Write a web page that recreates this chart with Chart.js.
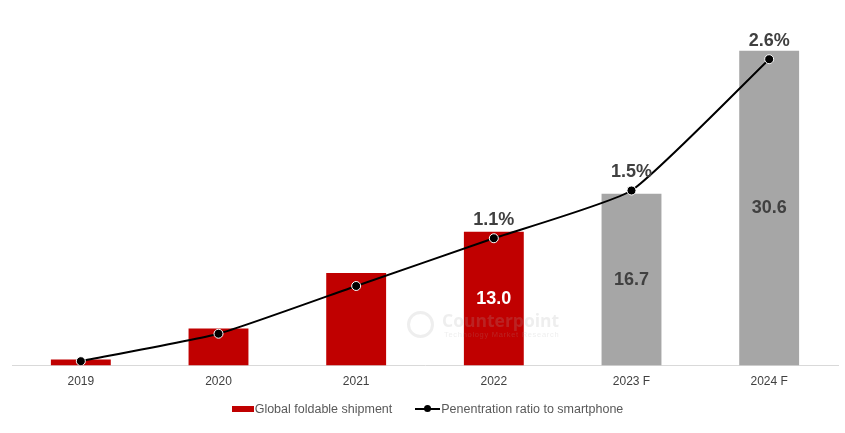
<!DOCTYPE html>
<html>
<head>
<meta charset="utf-8">
<script src="https://cdn.jsdelivr.net/npm/chart.js@4"></script>
<style>
  html, body { margin: 0; padding: 0; background: #fff; }
  #wrap { width: 845px; height: 433px; position: relative; font-family: "Liberation Sans", Arial, sans-serif; }
  #legenda { position: absolute; left: 0; width: 845px; top: 402px; display: flex; justify-content: center; align-items: center;
             font-size: 12.5px; color: #595959; padding-left: 10px; box-sizing: border-box; }
  .voce { display: flex; align-items: center; }
  .box { width: 22px; height: 6px; background: #C00000; margin-right: 1px; }
  .lin { width: 25px; height: 8px; position: relative; margin-right: 1px; }
  .lin:before { content: ""; position: absolute; left: 0; right: 0; top: 3px; height: 2px; background: #000; }
  .lin:after { content: ""; position: absolute; left: 9px; top: 0; width: 7px; height: 7px; border-radius: 50%; background: #000; }
  #marchio { position: absolute; left: 407px; top: 308px; color: rgba(170,170,170,0.2); pointer-events: none; }
  #marchio .cerchio { position: absolute; left: 0; top: 3px; width: 21px; height: 21px; border: 3px solid rgba(170,170,170,0.2); border-radius: 50%; }
  #marchio .nome { position: absolute; left: 35px; top: 0; font-family: "Open Sans", sans-serif; font-weight: bold; font-size: 17.5px; white-space: nowrap; }
  #marchio .sotto { position: absolute; left: 37px; top: 22px; font-size: 7.5px; white-space: nowrap; letter-spacing: 0.7px; }
</style>
</head>
<body>
<div id="wrap">
  <canvas id="grafico" width="845" height="433"></canvas>
  <div id="marchio"><div class="cerchio"></div><div class="nome">Counterpoint</div><div class="sotto">Technology Market Research</div></div>
  <div id="legenda">
    <div class="voce"><span class="box"></span><span>Global foldable shipment</span></div>
    <div class="voce" style="margin-left:23px"><span class="lin"></span><span>Penentration ratio to smartphone</span></div>
  </div>
</div>
<script>
// dati
var anni = ["2019", "2020", "2021", "2022", "2023 F", "2024 F"];
var spedizioni = [0.6, 3.6, 9.0, 13.0, 16.7, 30.6];
var penetrazione = [0.07, 0.3, 0.7, 1.1, 1.5, 2.6];
var etichetteBarre = ["", "", "", "13.0", "16.7", "30.6"];
var etichetteLinea = ["", "", "", "1.1%", "1.5%", "2.6%"];

var rosso = '#C00000';
var grigio = '#A6A6A6';
var coloriBarre = anni.map(function(a) { return a.indexOf('F') > 0 ? grigio : rosso; });

// plugin per le etichette dei valori
var etichette = {
  id: 'etichette',
  afterDatasetsDraw: function(chart) {
    var ctx = chart.ctx;
    ctx.save();
    ctx.font = 'bold 18px "Liberation Sans", Arial, sans-serif';
    ctx.textAlign = 'center';
    ctx.textBaseline = 'middle';
    var barre = chart.getDatasetMeta(1).data;
    barre.forEach(function(b, i) {
      if (!etichetteBarre[i]) return;
      ctx.fillStyle = anni[i].indexOf('F') > 0 ? '#404040' : '#ffffff';
      ctx.fillText(etichetteBarre[i], b.x, (b.y + b.base) / 2);
    });
    var punti = chart.getDatasetMeta(0).data;
    punti.forEach(function(p, i) {
      if (!etichetteLinea[i]) return;
      ctx.fillStyle = '#404040';
      ctx.fillText(etichetteLinea[i], p.x, p.y - 18);
    });
    ctx.restore();
  }
};

var ctx = document.getElementById('grafico');
var chart = new Chart(ctx, {
  type: 'bar',
  data: {
    labels: anni,
    datasets: [{
      type: 'line',
      label: 'Penentration ratio to smartphone',
      data: penetrazione,
      yAxisID: 'y1',
      borderColor: '#000',
      borderWidth: 2,
      tension: 0.15,
      pointRadius: 4.5,
      pointBackgroundColor: '#000',
      pointBorderColor: '#fff',
      pointBorderWidth: 1,
      order: 0
    }, {
      type: 'bar',
      label: 'Global foldable shipment',
      data: spedizioni,
      yAxisID: 'y',
      backgroundColor: coloriBarre,
      barPercentage: 0.435,
      categoryPercentage: 1,
      order: 1
    }]
  },
  options: {
    responsive: false,
    animation: false,
    layout: { padding: { left: 12, right: 7, top: 4, bottom: 43 } },
    plugins: {
      tooltip: { enabled: false },
      legend: { display: false }
    },
    scales: {
      x: {
        grid: { display: false },
        border: { display: true, color: '#D9D9D9', width: 1 },
        ticks: { color: '#404040', font: { size: 12, family: '"Liberation Sans", Arial, sans-serif' }, padding: 1 }
      },
      y: { display: false, min: 0, max: 35 },
      y1: { display: false, min: 0.033, max: 3.05 }
    }
  },
  plugins: [etichette]
});
</script>
</body>
</html>
